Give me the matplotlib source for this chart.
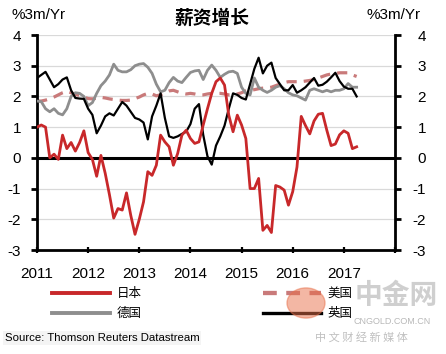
import matplotlib
matplotlib.use("Agg")
import matplotlib.pyplot as plt
import numpy as np
from matplotlib.patches import Circle
import matplotlib.transforms as mtrans

plt.rcParams['font.family'] = ['Liberation Sans', 'Noto Sans CJK SC', 'DejaVu Sans']
plt.rcParams['axes.unicode_minus'] = False

# Monthly data, Jan 2011 .. Apr 2017 (%3m/Yr)
start_year = 2011
japan = [1.0, 1.07, 1.0, 0.0, 0.12, -0.05, 0.74, 0.3, 0.5, 0.22, 0.5, 0.88,
         0.17, -0.05, -0.6, 0.08, -0.5, -1.2, -1.96, -1.65, -1.7, -1.14, -1.87, -2.49,
         -2.0, -1.43, -0.45, -0.57, -0.24, 0.74, 0.52, 0.36, -0.24, 0.14, 0.74, 0.9,
         0.63, 0.47, 0.52, 1.07, 1.6, 2.1, 2.48, 2.6, 2.37, 1.39, 0.85, 1.39,
         1.07, 0.63, -1.0, -1.0, -0.67, -2.36, -2.2, -2.43, -0.9, -0.95, -1.05, -1.54,
         -1.1, -0.3, 1.35, 1.05, 0.78, 1.2, 1.42, 1.45, 0.9, 0.4, 0.45, 0.75,
         0.88, 0.8, 0.3, 0.36]
usa = [1.85, 1.85, 1.88, 1.92, 1.98, 2.05, 2.12, 2.17, 2.12, 2.07, 2.03, 1.98,
       1.93, 1.92, 1.94, 1.97, 1.95, 1.92, 1.9, 1.88, 1.87, 1.87, 1.88, 1.93,
       1.98, 2.05, 2.1, 2.08, 2.02, 2.05, 2.12, 2.18, 2.2, 2.15, 2.1, 2.08,
       2.1, 2.08, 2.05, 2.05, 2.08, 2.1, 2.1, 2.1, 2.08, 2.05, 2.05, 2.08,
       2.12, 2.18, 2.2, 2.22, 2.25, 2.27, 2.28, 2.3, 2.35, 2.4, 2.45, 2.48,
       2.48, 2.48, 2.48, 2.5, 2.52, 2.55, 2.6, 2.65, 2.7, 2.73, 2.75, 2.77,
       2.77, 2.77, 2.7, 2.65]
germany = [1.85, 1.83, 1.6, 1.5, 1.6, 1.45, 1.4, 1.6, 2.0, 2.12, 2.1, 2.0,
           1.7, 1.8, 2.1, 2.35, 2.5, 2.7, 3.05, 2.85, 2.8, 2.8, 2.87, 3.0,
           3.05, 3.07, 2.95, 2.75, 2.4, 2.15, 2.2, 2.45, 2.62, 2.5, 2.45, 2.62,
           2.78, 2.83, 2.85, 2.55, 2.85, 3.02, 2.85, 2.62, 2.72, 2.8, 2.82, 2.75,
           2.3, 2.1, 2.05, 2.6, 2.3, 2.2, 2.13, 2.2, 2.3, 2.35, 2.25, 2.12,
           2.05, 2.02, 1.95, 1.88, 2.2, 2.25, 2.2, 2.15, 2.2, 2.15, 2.2, 2.2,
           2.25, 2.42, 2.3, 2.3]
uk = [2.6, 2.7, 2.8, 2.55, 2.3, 2.4, 2.55, 2.62, 2.2, 1.95, 1.93, 1.92,
      1.6, 1.4, 0.8, 1.05, 1.35, 1.45, 1.38, 1.6, 1.82, 1.7, 1.5, 1.3,
      1.25, 1.15, 0.6, 1.35, 1.7, 2.1, 1.3, 0.7, 0.65, 0.7, 0.78, 0.85,
      1.1, 1.6, 1.75, 0.75, 0.05, -0.22, 0.4, 0.7, 1.05, 1.6, 2.1, 2.05,
      1.95, 1.9, 2.4, 2.9, 3.26, 2.75, 3.0, 3.1, 2.6, 2.4, 2.2, 2.2,
      2.37, 2.12, 2.2, 2.3, 2.45, 2.6, 2.35, 2.38, 2.48, 2.62, 2.77, 2.5,
      2.32, 2.25, 2.25, 2.0]

year_ticks = [2011, 2012, 2013, 2014, 2015, 2016, 2017, 2018]
year_labels = ['2011', '2012', '2013', '2014', '2015', '2016', '2017', '']
y_ticks = [-3, -2, -1, 0, 1, 2, 3, 4]

names = ['日本', '美国', '德国', '英国']
title = '薪资增长'
unit = '%3m/Yr'
source = 'Source: Thomson Reuters Datastream'

W, H = 446, 354
fig = plt.figure(figsize=(W / 100, H / 100), dpi=100)
ax = fig.add_axes([37 / W, 1 - 250 / H, 358 / W, 215 / H])

x = start_year + np.arange(len(japan)) / 12.0

red = '#c8282a'
pink = '#c97a7a'
grey = '#8e8e8e'

for yv in y_ticks[1:]:
    ax.axhline(yv, color='#d9d9d9', lw=0.9, zorder=0)
ax.axhline(0, color='black', lw=2.2, zorder=1)

l_us, = ax.plot(x, usa, color=pink, lw=2.3, dashes=(3.2, 2.2), zorder=2)
l_de, = ax.plot(x, germany, color=grey, lw=2.0, zorder=3)
l_uk, = ax.plot(x, uk, color='black', lw=1.6, zorder=4)
l_jp, = ax.plot(x, japan, color=red, lw=2.0, zorder=5)

ax.set_xlim(2011, 2018)
ax.set_ylim(-3, 4)
ax.set_yticks(y_ticks)
ax.set_xticks(year_ticks)
ax.set_xticklabels(year_labels)

for s in ['left', 'right', 'bottom']:
    ax.spines[s].set_linewidth(2.0)
    ax.spines[s].set_color('black')
ax.spines['top'].set_visible(False)

ax.tick_params(axis='y', which='both', left=True, right=True, labelleft=True,
               labelright=True, direction='out', length=4.5, width=2.0,
               labelsize=11, pad=7)
ax.tick_params(axis='x', direction='inout', length=5, width=1.6, labelsize=11, pad=10)

for t in ax.yaxis.get_major_ticks():
    t.label2.set_horizontalalignment('right')
offset = mtrans.ScaledTranslation(15 / 100, 0, fig.dpi_scale_trans)
for t in ax.yaxis.get_major_ticks():
    t.label2.set_transform(t.label2.get_transform() + offset)

# Title and units
fig.text(212 / W, 1 - 18 / H, title, ha='center', va='center', fontsize=13.5,
         fontweight='bold', family=['Noto Sans CJK SC', 'DejaVu Sans'])
fig.text(12 / W, 1 - 15 / H, unit, ha='left', va='center', fontsize=11)
fig.text(421 / W, 1 - 15 / H, unit, ha='right', va='center', fontsize=11)

# Legend drawn manually in figure coords
legend_items = [
    (l_jp, 52, 110, 293, names[0], 117),
    (l_us, 263, 321, 293, names[1], 327),
    (l_de, 52, 110, 313, names[2], 117),
    (l_uk, 263, 321, 313, names[3], 327),
]
for line, x0, x1, yy, name, tx in legend_items:
    ln = plt.Line2D([x0 / W, x1 / W], [1 - yy / H, 1 - yy / H], transform=fig.transFigure,
                    color=line.get_color(), lw=line.get_linewidth() + 0.8)
    if line is l_us:
        ln.set_dashes((3.2, 2.2))
    fig.add_artist(ln)
    fig.text(tx / W, 1 - yy / H, name, ha='left', va='center', fontsize=9,
             family=['Noto Sans CJK SC', 'DejaVu Sans'])

fig.text(5 / W, 1 - 338 / H, source, ha='left', va='center', fontsize=8.2,
         bbox=dict(boxstyle='square,pad=0.15', fc='#f4f4f4', ec='none'))

# Watermark
circ = Circle((306 / W, 1 - 303 / H), 19 / W, transform=fig.transFigure,
              color='#e8704a', alpha=0.5, zorder=10)
fig.add_artist(circ)
fig.text(396 / W, 1 - 296 / H, '中金网', ha='center', va='center', fontsize=20,
         fontweight='bold', color='#b0b0b0', alpha=0.6,
         family=['Noto Sans CJK SC', 'DejaVu Sans'])
fig.text(392 / W, 1 - 322 / H, 'CNGOLD.COM.CN', ha='center', va='center', fontsize=6.5,
         color='#b8b8b8')
fig.text(361 / W, 1 - 337 / H, '中 文 财 经 新 媒 体', ha='center', va='center', fontsize=8,
         color='#c0c0c0', family=['Noto Sans CJK SC', 'DejaVu Sans'])

fig.savefig('out.png', dpi=100)
